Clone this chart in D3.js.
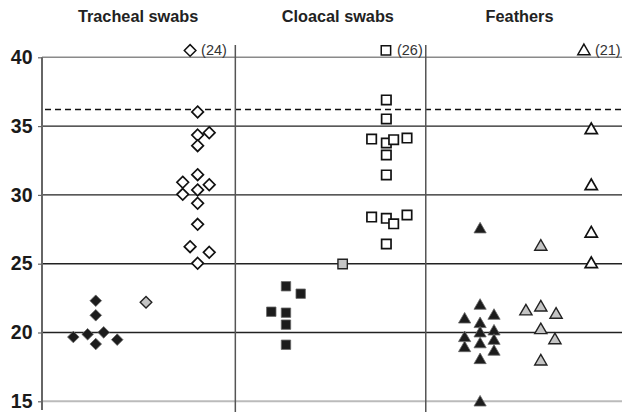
<!DOCTYPE html>
<html>
<head>
<meta charset="utf-8">
<title>Ct values by sample type</title>
<script src="https://cdn.jsdelivr.net/npm/d3@7"></script>
<style>
  body { margin: 0; background: #fff; }
  svg text { font-family: "Liberation Sans", Arial, sans-serif; }
</style>
</head>
<body>
<div id="chart"></div>
<script>
// y axis ticks and the dashed cut-off
var yTicks = [15, 20, 25, 30, 35, 40];
var cutOff = 36.2;

// panels (x in chart units 0..30)
var panelNames = ["Tracheal swabs", "Cloacal swabs", "Feathers"];
var panelEdges = [0, 10, 19.85, 30];
var titleAt = [4.97, 15.3, 24.7];
var panelShapes = ["diamond", "square", "triangle"];

// [x position, Ct value]
var trachealBlack = [[2.78, 22.31], [2.78, 21.25], [1.62, 19.67], [2.36, 19.87], [3.19, 20.01], [2.78, 19.16], [3.89, 19.48]];
var trachealGray = [[5.38, 22.2]];
var trachealWhite = [[8.05, 36.03], [8.05, 34.35], [8.65, 34.52], [8.05, 33.58], [8.05, 31.47], [7.28, 30.92], [8.65, 30.74],
                     [8.05, 30.36], [7.28, 30.04], [8.05, 29.39], [8.05, 27.86], [7.66, 26.24], [8.65, 25.83], [8.05, 25.03]];

var cloacalBlack = [[12.62, 23.36], [13.38, 22.82], [11.86, 21.51], [12.62, 21.44], [12.62, 20.57], [12.62, 19.11]];
var cloacalGray = [[15.55, 24.98]];
var cloacalWhite = [[17.81, 36.9], [17.81, 35.52], [17.05, 34.06], [17.81, 33.77], [18.19, 34.01], [18.88, 34.13], [17.81, 32.9],
                    [17.81, 31.45], [17.05, 28.39], [17.81, 28.3], [18.19, 27.9], [18.88, 28.54], [17.81, 26.43]];

var feathersBlack = [[22.66, 27.55], [22.66, 22.0], [22.66, 20.67], [22.66, 19.99], [22.66, 19.2], [22.66, 18.05], [22.66, 14.97],
                     [21.86, 21.0], [21.86, 19.65], [21.86, 18.92],
                     [23.38, 21.27], [23.38, 20.13], [23.38, 19.45], [23.38, 18.66]];
var feathersGray = [[25.8, 26.29], [25.03, 21.59], [25.8, 21.88], [26.59, 21.35], [25.8, 20.23], [26.53, 19.5], [25.8, 17.95]];
var feathersWhite = [[28.41, 34.77], [28.41, 30.7], [28.41, 27.25], [28.41, 25.03]];

// values above the top of the scale, shown with their count
var outliers = [[7.66, "(24)"], [17.79, "(26)"], [28.03, "(21)"]];

var width = 624, height = 412;

var svg = d3.select("#chart").append("svg")
    .attr("width", width)
    .attr("height", height);

var x = d3.scaleLinear().domain([0, 30]).range([42, 622]);
var y = d3.scaleLinear().domain([15, 40]).range([401.3, 57.3]);

// marker shapes
function shapePath(kind) {
  if (kind == "diamond") return "M0,-5.8L5.8,0L0,5.8L-5.8,0Z";
  if (kind == "square") return "M-4.7,-4.7H4.7V4.7H-4.7Z";
  return "M0,-6.3L6.1,4.3H-6.1Z";
}

var styles = {
  black: {fill: "#1c1c1c", stroke: "#666", sw: 0.8},
  gray: {fill: "#c4c4c4", stroke: "#222", sw: 1.4},
  white: {fill: "#fff", stroke: "#111", sw: 1.7}
};

// horizontal lines
svg.append("g").selectAll("line")
  .data(yTicks)
  .enter().append("line")
    .attr("x1", x(0)).attr("x2", x(30))
    .attr("y1", function(d) { return y(d); })
    .attr("y2", function(d) { return y(d); })
    .attr("stroke", function(d) { return d == 15 ? "#bbb" : (d == 40 ? "#8a8a8a" : "#222"); })
    .attr("stroke-width", function(d) { return d == 15 ? 2 : 1.4; });

// dashed cut-off
svg.append("line")
    .attr("x1", x(0) + 3).attr("x2", x(30))
    .attr("y1", y(cutOff)).attr("y2", y(cutOff))
    .attr("stroke", "#111")
    .attr("stroke-width", 1.5)
    .attr("stroke-dasharray", "6,4");

// panel dividers
svg.append("g").selectAll("line")
  .data(panelEdges.slice(1, 3))
  .enter().append("line")
    .attr("x1", function(d) { return x(d); })
    .attr("x2", function(d) { return x(d); })
    .attr("y1", 45).attr("y2", height)
    .attr("stroke", "#555")
    .attr("stroke-width", 1.5);

// y axis
var yAxis = svg.append("g")
    .attr("transform", "translate(" + x(0) + ",0)")
    .call(d3.axisLeft(y).tickValues(yTicks).tickSize(4).tickPadding(5).tickSizeOuter(0));
yAxis.select(".domain").remove();
yAxis.selectAll(".tick line").attr("stroke", "#666").attr("stroke-width", 1.2);
yAxis.selectAll(".tick text")
    .attr("fill", "#1a1a1a")
    .style("font-size", "19.5px")
    .style("font-weight", "bold")
    .style("letter-spacing", "0.3px");
svg.append("line")
    .attr("x1", x(0)).attr("x2", x(0))
    .attr("y1", y(40)).attr("y2", height - 2)
    .attr("stroke", "#666")
    .attr("stroke-width", 2);

// titles
svg.append("g").selectAll("text")
  .data(panelNames)
  .enter().append("text")
    .attr("x", function(d, i) { return x(titleAt[i]); })
    .attr("y", 21.7)
    .attr("text-anchor", "middle")
    .attr("fill", "#222")
    .style("font-size", "16.3px")
    .style("font-weight", "bold")
    .text(function(d) { return d; });

// points
var groups = [
  [trachealBlack, 0, "black"], [trachealGray, 0, "gray"], [trachealWhite, 0, "white"],
  [cloacalBlack, 1, "black"], [cloacalGray, 1, "gray"], [cloacalWhite, 1, "white"],
  [feathersBlack, 2, "black"], [feathersGray, 2, "gray"], [feathersWhite, 2, "white"]
];

groups.forEach(function(g) {
  var st = styles[g[2]];
  svg.append("g").selectAll("path")
    .data(g[0])
    .enter().append("path")
      .attr("transform", function(d) { return "translate(" + x(d[0]) + "," + y(d[1]) + ")"; })
      .attr("d", shapePath(panelShapes[g[1]]))
      .attr("fill", st.fill)
      .attr("stroke", st.stroke)
      .attr("stroke-width", st.sw);
});

// off-scale markers with counts
var off = svg.append("g").selectAll("g")
  .data(outliers)
  .enter().append("g")
    .attr("transform", function(d) { return "translate(" + x(d[0]) + "," + y(40.5) + ")"; });
off.append("path")
    .attr("d", function(d, i) { return shapePath(panelShapes[i]); })
    .attr("fill", "#fff")
    .attr("stroke", "#111")
    .attr("stroke-width", 1.5);
off.append("text")
    .attr("x", 11)
    .attr("y", 4.8)
    .attr("fill", "#333")
    .style("font-size", "14.5px")
    .text(function(d) { return d[1]; });
</script>
</body>
</html>
